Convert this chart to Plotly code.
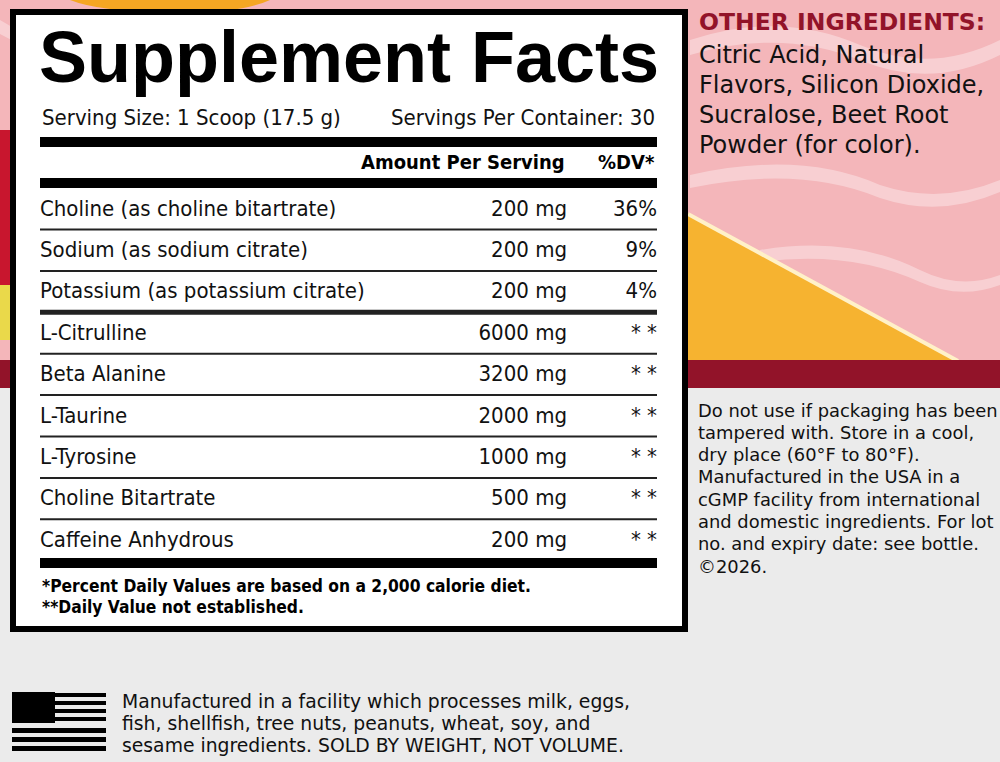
import plotly.graph_objects as go

# label data
ingredients = ["Choline (as choline bitartrate)", "Sodium (as sodium citrate)",
               "Potassium (as potassium citrate)", "L-Citrulline", "Beta Alanine",
               "L-Taurine", "L-Tyrosine", "Choline Bitartrate", "Caffeine Anhydrous"]
amounts_mg = [200, 200, 200, 6000, 3200, 2000, 1000, 500, 200]
daily_value = ["36%", "9%", "4%", "* *", "* *", "* *", "* *", "* *", "* *"]

serving_size = "Serving Size: 1 Scoop (17.5 g)"
servings_per_container = "Servings Per Container: 30"
footnotes = ["*Percent Daily Values are based on a 2,000 calorie diet.",
             "**Daily Value not established."]
other_ingredients = ["Citric Acid, Natural", "Flavors, Silicon Dioxide,",
                     "Sucralose, Beet Root", "Powder (for color)."]
storage_lines = ["Do not use if packaging has been", "tampered with. Store in a cool,",
                 "dry place (60°F to 80°F).", "Manufactured in the USA in a",
                 "cGMP facility from international", "and domestic ingredients. For lot",
                 "no. and expiry date: see bottle.", "©2026."]
allergen_lines = ["Manufactured in a facility which processes milk, eggs,",
                  "fish, shellfish, tree nuts, peanuts, wheat, soy, and",
                  "sesame ingredients. SOLD BY WEIGHT, NOT VOLUME."]

NARROW = "Liberation Sans Narrow, Arial Narrow, DejaVu Sans Condensed, sans-serif"
SANS = "DejaVu Sans, sans-serif"
RED = "#921329"

row0, pitch = 210, 41.4
row_y = [row0 + i * pitch for i in range(len(ingredients))]
left_x, amt_x, dv_x = 40, 567, 657

fig = go.Figure()

# ingredient table
fig.add_trace(go.Scatter(x=[left_x] * len(ingredients), y=row_y, text=ingredients,
                         mode="text", textposition="middle right", hoverinfo="skip",
                         textfont=dict(family=NARROW, size=22, color="#111")))
fig.add_trace(go.Scatter(x=[amt_x] * len(amounts_mg), y=row_y,
                         text=[f"{a} mg" for a in amounts_mg], hoverinfo="skip",
                         mode="text", textposition="middle left",
                         textfont=dict(family=NARROW, size=22, color="#111")))
fig.add_trace(go.Scatter(x=[dv_x] * len(daily_value), y=row_y, text=daily_value,
                         mode="text", textposition="middle left", hoverinfo="skip",
                         textfont=dict(family=NARROW, size=22, color="#111")))

shapes = []
def rect(x0, y0, x1, y1, color, **kw):
    shapes.append(dict(type="rect", x0=x0, y0=y0, x1=x1, y1=y1, fillcolor=color,
                       line=dict(width=0), layer="below", **kw))

# background
rect(0, 0, 1000, 360, "#F4B6BA")
for p in ["M 690 40 Q 780 10 860 45 Q 930 75 1000 40 L 1000 55 Q 930 90 860 60 Q 780 28 690 55 Z",
          "M 690 175 Q 800 150 880 185 Q 940 205 1000 180 L 1000 192 Q 940 218 880 198 Q 800 165 690 188 Z",
          "M 760 250 Q 850 235 920 270 Q 960 290 1000 275 L 1000 285 Q 960 300 920 282 Q 850 250 760 262 Z",
          "M 0 20 Q 30 40 60 30 L 60 40 Q 30 52 0 34 Z"]:
    shapes.append(dict(type="path", path=p, fillcolor="white", opacity=0.35,
                       line=dict(width=0), layer="below"))
rect(0, 388, 1000, 762, "#EBEBEB")
shapes.append(dict(type="path", path="M 688 213 L 958 360 L 688 360 Z",
                   fillcolor="#F6B330", line=dict(width=0), layer="below"))
shapes.append(dict(type="line", x0=688, y0=214, x1=958, y1=361,
                   line=dict(color="#FFF1C8", width=4), layer="below"))
shapes.append(dict(type="path", path="M 70 0 L 270 0 Q 240 14 170 12 Q 100 12 70 0 Z",
                   fillcolor="#F5A623", line=dict(width=0), layer="below"))
rect(0, 130, 10, 285, "#C8162E")
rect(0, 285, 10, 340, "#EAD94A")
rect(0, 360, 1000, 388, RED)

# label box
shapes.append(dict(type="rect", x0=13, y0=12, x1=685, y1=629, fillcolor="white",
                   line=dict(color="black", width=6), layer="below"))
rect(40, 137, 657, 147, "black")
rect(40, 178, 657, 188, "black")
for i, y in enumerate(row_y[:-1]):
    w = 5 if i == 2 else 2
    shapes.append(dict(type="line", x0=40, x1=657, y0=y + 19.5, y1=y + 19.5,
                       line=dict(color="#222", width=w), layer="below"))
rect(40, 558, 657, 568, "black")

# flag icon
rect(12, 692, 55, 723, "black")
for y in [693, 701, 709, 717]:
    rect(55, y, 106, y + 4, "black")
for y in [728, 737, 746]:
    rect(12, y, 106, y + 5, "black")

ann = []
def text(x, y, s, size, family, color="#111", anchor="left", bold=False):
    ann.append(dict(x=x, y=y, text=f"<b>{s}</b>" if bold else s, showarrow=False,
                    xanchor=anchor, yanchor="middle",
                    font=dict(family=family, size=size, color=color)))

text(37, 57, "Supplement Facts", 72, "Liberation Sans, Arial, sans-serif", "#000", bold=True)
text(left_x, 117, serving_size, 22, NARROW)
text(dv_x, 117, servings_per_container, 22, NARROW, anchor="right")
text(amt_x, 162, "Amount Per Serving", 20, NARROW, "#000", "right", True)
text(dv_x, 162, "%DV*", 20, NARROW, "#000", "right", True)
for i, s in enumerate(footnotes):
    text(left_x, 586 + i * 21, s, 17.3, NARROW, "#000", bold=True)

text(697, 22, "OTHER INGREDIENTS:", 23.5, SANS, RED, bold=True)
for i, s in enumerate(other_ingredients):
    text(697, 55 + i * 30, s, 24, SANS)
for i, s in enumerate(storage_lines):
    text(696, 410 + i * 22.3, s, 17.9, SANS)
for i, s in enumerate(allergen_lines):
    text(120, 701 + i * 22, s, 18.8, SANS)

fig.update_layout(width=1000, height=762, margin=dict(l=0, r=0, t=0, b=0),
                  paper_bgcolor="#EBEBEB", plot_bgcolor="rgba(0,0,0,0)",
                  showlegend=False, shapes=shapes, annotations=ann,
                  xaxis=dict(range=[0, 1000], visible=False, fixedrange=True),
                  yaxis=dict(range=[762, 0], visible=False, fixedrange=True))
fig.write_html("out.html", config={"displayModeBar": False},
               post_script="document.body.style.margin='0';")
